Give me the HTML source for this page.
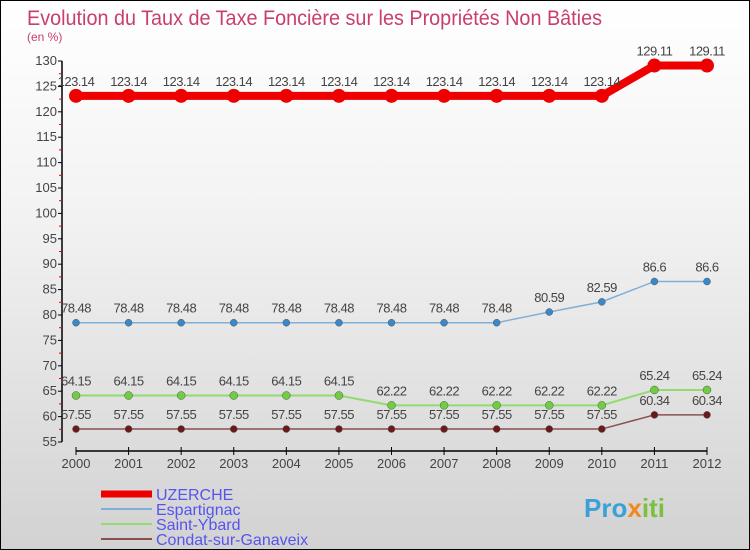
<!DOCTYPE html>
<html><head><meta charset="utf-8"><style>
body{margin:0}
#c{width:750px;height:550px;position:relative;box-sizing:border-box;border:1px solid #000;background:linear-gradient(#ffffff,#f2f2f2 40%,#d2d2d2);font-family:"Liberation Sans",sans-serif;overflow:hidden}
text{font-family:"Liberation Sans",sans-serif}
</style></head><body>
<div id="c">
<svg id="s" width="750" height="550">
<text x="26" y="24" font-size="21" fill="#c8406a" textLength="575" lengthAdjust="spacingAndGlyphs">Evolution du Taux de Taxe Foncière sur les Propriétés Non Bâties</text>
<text x="26" y="40" font-size="12" fill="#c8406a">(en %)</text>
<g id="ax"></g><g id="ser"></g><g id="leg"></g>
<text x="583" y="516" font-size="26" font-weight="bold" fill="#3aa0d8">Pro<tspan fill="#f08a20">x</tspan><tspan fill="#7cc040">iti</tspan></text>
</svg></div>
<script>
const years=[2000,2001,2002,2003,2004,2005,2006,2007,2008,2009,2010,2011,2012];
const uzerche=[123.14,123.14,123.14,123.14,123.14,123.14,123.14,123.14,123.14,123.14,123.14,129.11,129.11];
const espartignac=[78.48,78.48,78.48,78.48,78.48,78.48,78.48,78.48,78.48,80.59,82.59,86.6,86.6];
const saintYbard=[64.15,64.15,64.15,64.15,64.15,64.15,62.22,62.22,62.22,62.22,62.22,65.24,65.24];
const condat=[57.55,57.55,57.55,57.55,57.55,57.55,57.55,57.55,57.55,57.55,57.55,60.34,60.34];
const yTicks=[55,60,65,70,75,80,85,90,95,100,105,110,115,120,125,130];
const NS="http://www.w3.org/2000/svg";
const X=i=>75+i*(706-75)/(years.length-1);
const Y=v=>441-(v-55)*(381/75);
function mk(p,t,a){const e=document.createElementNS(NS,t);for(const k in a)e.setAttribute(k,a[k]);p.appendChild(e);return e;}
const ax=document.getElementById('ax');
const yl=mk(ax,'line',{x1:61,y1:Y(130),x2:61,y2:Y(55),stroke:'#000','stroke-width':1.5});


yTicks.forEach(v=>{
 mk(ax,'line',{x1:57,x2:61,y1:Y(v),y2:Y(v),stroke:'#000'});
 if(v<130) mk(ax,'line',{x1:58,x2:61,y1:Y(v+2.5),y2:Y(v+2.5),stroke:'#e00'});
 const t=mk(ax,'text',{x:56,y:Y(v)+4,'font-size':13,'text-anchor':'end',fill:'#444'});t.textContent=v;
 
 
});
const xl=mk(ax,'line',{x1:X(0),x2:X(12),y1:450,y2:450,stroke:'#000','stroke-width':1.5});


years.forEach((y,i)=>{
 mk(ax,'line',{x1:X(i),x2:X(i),y1:446,y2:454,stroke:'#000'});
 const t=mk(ax,'text',{x:X(i),y:467,'font-size':13,'text-anchor':'middle',fill:'#444'});t.textContent=y;
 
 
});
const series=[
 {n:'Condat-sur-Ganaveix',d:condat,c:'#8a5050',dot:'#6a1a1a',w:1.5,r:3.5},
 {n:'Saint-Ybard',d:saintYbard,c:'#90dc70',dot:'#70cc40',w:2,r:4},
 {n:'Espartignac',d:espartignac,c:'#80b0d8',dot:'#3a88c8',w:1.5,r:3.5},
 {n:'UZERCHE',d:uzerche,c:'#ee0000',dot:'#ee0000',w:8,r:7}];
const sg=document.getElementById('ser');
series.forEach(s=>{
 const g=mk(sg,'g',{});
 
 
 mk(g,'polyline',{points:s.d.map((v,i)=>X(i)+','+Y(v)).join(' '),fill:'none',stroke:s.c,'stroke-width':s.w});
 s.d.forEach((v,i)=>{
  const c=mk(g,'circle',{cx:X(i),cy:Y(v),r:s.r,fill:s.dot,stroke:s.w>5?'none':'#555','stroke-width':0.5});
  
  
  const t=mk(g,'text',{x:X(i),y:Y(v)-10,'font-size':13,'text-anchor':'middle',fill:'#444','letter-spacing':'-0.5'});t.textContent=v;
  
  
 });
});
const lg=document.getElementById('leg');
[...series].reverse().forEach((s,i)=>{
 const y=493+i*15;
 const g=mk(lg,'g',{});
 
 
 mk(g,'line',{x1:100,x2:151,y1:y,y2:y,stroke:s.c,'stroke-width':s.w>5?7:2});
 const t=mk(g,'text',{x:155,y:y+6,'font-size':16,fill:'#5555ee'});t.textContent=s.n;
});
</script>
</body></html>
